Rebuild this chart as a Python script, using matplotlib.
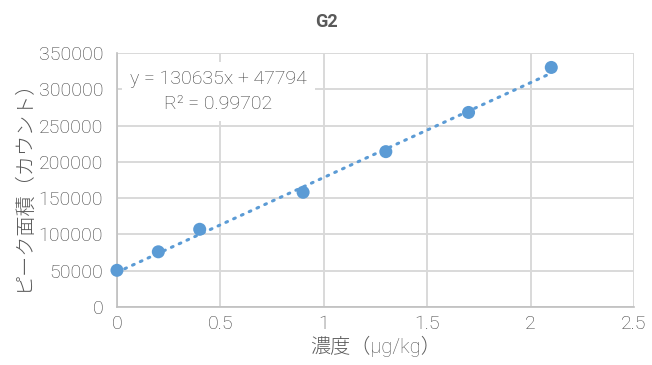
import numpy as np
import matplotlib
matplotlib.use("Agg")
import matplotlib.pyplot as plt

plt.rcParams['font.family'] = ['Roboto', 'Noto Sans CJK JP', 'DejaVu Sans']

# calibration points
conc = [0, 0.2, 0.4, 0.9, 1.3, 1.7, 2.1]
area = [50500, 76000, 107000, 158000, 214000, 268000, 330000]

# linear fit as reported
slope = 130635
intercept = 47794
r2 = 0.99702

x_ticks = [0, 0.5, 1, 1.5, 2, 2.5]
y_ticks = list(range(0, 350001, 50000))

gray = '#595959'
text_gray = '#3f3f3f'
blue = '#5B9BD5'

fig = plt.figure(figsize=(6.52, 3.65), dpi=100)
ax = fig.add_axes([0.1794, 0.159, 0.793, 0.696])

ax.set_xlim(0, 2.5)
ax.set_ylim(0, 350000)
ax.set_xticks(x_ticks)
ax.set_xticklabels(['0', '0.5', '1', '1.5', '2', '2.5'])
ax.set_yticks(y_ticks)
ax.set_yticklabels([str(v) for v in y_ticks])
ax.tick_params(axis='y', length=0, labelsize=14, colors=text_gray, pad=10)
ax.tick_params(axis='x', length=0, labelsize=14, colors=text_gray, pad=6)
for lab in ax.get_xticklabels() + ax.get_yticklabels():
    lab.set_fontweight('light')

ax.grid(True, color='#d9d9d9', linewidth=1.4)
ax.set_axisbelow(True)
for side in ['top', 'right']:
    ax.spines[side].set_visible(False)
for side in ['left', 'bottom']:
    ax.spines[side].set_color('#bfbfbf')
    ax.spines[side].set_linewidth(1.2)

# trendline
xt = np.array([conc[0], conc[-1]])
ax.plot(xt, slope * xt + intercept, color=blue, linewidth=2.2,
        linestyle=(0, (0.6, 2.2)), dash_capstyle='round', zorder=3)

ax.scatter(conc, area, s=88, color=blue, zorder=4, clip_on=False,
           edgecolors='none')

ax.text(0.49, 297000,
        'y = {}x + {}\nR² = {}'.format(slope, intercept, r2),
        ha='center', va='center', fontsize=14, color=text_gray,
        fontweight='light', linespacing=1.5, zorder=5,
        bbox=dict(facecolor='white', edgecolor='none', pad=6))

fig.text(0.5, 0.94, 'G2', ha='center', va='center', fontsize=13,
         color=gray, fontweight='bold')
ax.set_xlabel('濃度（μg/kg）', fontsize=14.5, color=gray,
              fontweight='light', labelpad=2)
ax.set_ylabel('ピーク面積（カウント）', fontsize=14.5, color=gray,
              fontweight='light', labelpad=4)

fig.savefig('out.png', dpi=100)
